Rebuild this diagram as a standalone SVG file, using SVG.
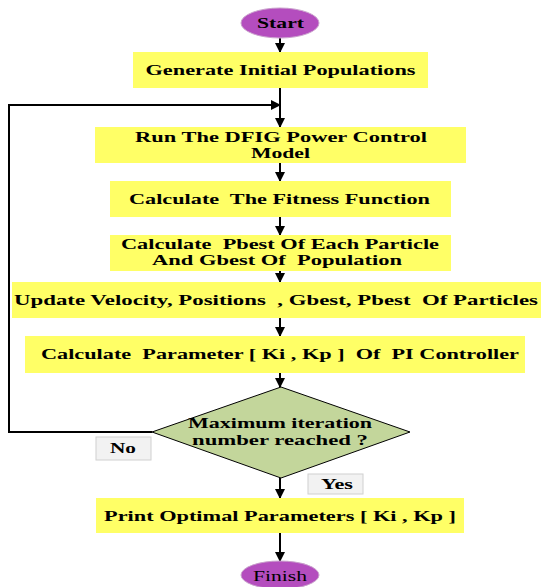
<svg xmlns="http://www.w3.org/2000/svg" width="541" height="587" viewBox="0 0 541 587">
<style>
text{font-family:"Liberation Serif","Times New Roman",serif;font-weight:bold;font-size:15px;fill:#000;text-anchor:middle}
.box{fill:#ffff66}
.term{fill:#b44dbe;stroke:#c9a0cc;stroke-width:1}
.dia{fill:#c3d69b;stroke:#000;stroke-width:1}
.lbl{fill:#f2f2f2;stroke:#d0d0d0;stroke-width:1}
.ln{stroke:#000;stroke-width:2;fill:none}
</style>
<defs>
<marker id="ah" markerWidth="10" markerHeight="10" refX="9" refY="5" orient="auto" markerUnits="userSpaceOnUse">
<path d="M0,0 L10,5 L0,10 Z" fill="#000"/>
</marker>
</defs>
<g id="connectors">
<line class="ln" x1="280" y1="38" x2="280" y2="52" marker-end="url(#ah)"/>
<line class="ln" x1="280" y1="88" x2="280" y2="127" marker-end="url(#ah)"/>
<polyline class="ln" points="152,432 9,432 9,105 280,105" marker-end="url(#ah)"/>
<line class="ln" x1="280" y1="163" x2="280" y2="181" marker-end="url(#ah)"/>
<line class="ln" x1="280" y1="217" x2="280" y2="235" marker-end="url(#ah)"/>
<line class="ln" x1="280" y1="271" x2="280" y2="282" marker-end="url(#ah)"/>
<line class="ln" x1="280" y1="318" x2="280" y2="336" marker-end="url(#ah)"/>
<line class="ln" x1="280" y1="373" x2="280" y2="387" marker-end="url(#ah)"/>
<line class="ln" x1="280" y1="478" x2="280" y2="498" marker-end="url(#ah)"/>
<line class="ln" x1="280" y1="533" x2="280" y2="561" marker-end="url(#ah)"/>
</g>
<g id="start">
<ellipse class="term" cx="280" cy="23" rx="39" ry="15"/>
<text x="280.5" y="28" textLength="47" lengthAdjust="spacingAndGlyphs">Start</text>
</g>
<g id="generate">
<rect class="box" x="133" y="52" width="295" height="36"/>
<text x="280.5" y="75" textLength="270" lengthAdjust="spacingAndGlyphs">Generate Initial Populations</text>
</g>
<g id="run">
<rect class="box" x="95" y="127" width="371" height="36"/>
<text x="281" y="142" textLength="292" lengthAdjust="spacingAndGlyphs">Run The DFIG Power Control</text>
<text x="280.5" y="158" textLength="59" lengthAdjust="spacingAndGlyphs">Model</text>
</g>
<g id="fitness">
<rect class="box" x="110" y="181" width="341" height="36"/>
<text x="279.5" y="204" textLength="301" lengthAdjust="spacingAndGlyphs" xml:space="preserve">Calculate  The Fitness Function</text>
</g>
<g id="pbest">
<rect class="box" x="110" y="235" width="341" height="36"/>
<text x="280" y="249" textLength="318" lengthAdjust="spacingAndGlyphs" xml:space="preserve">Calculate  Pbest Of Each Particle</text>
<text x="277" y="265" textLength="250" lengthAdjust="spacingAndGlyphs" xml:space="preserve">And Gbest Of  Population</text>
</g>
<g id="update">
<rect class="box" x="12" y="282" width="529" height="36"/>
<text x="276" y="305" textLength="524" lengthAdjust="spacingAndGlyphs" xml:space="preserve">Update Velocity, Positions  , Gbest, Pbest  Of Particles</text>
</g>
<g id="parameter">
<rect class="box" x="25" y="336" width="500" height="37"/>
<text x="280" y="359" textLength="478" lengthAdjust="spacingAndGlyphs" xml:space="preserve">Calculate  Parameter [ Ki , Kp ]  Of  PI Controller</text>
</g>
<g id="decision">
<polygon class="dia" points="281,387 410,432 281,478 152,432"/>
<text x="280" y="428" textLength="184" lengthAdjust="spacingAndGlyphs">Maximum iteration</text>
<text x="280" y="445" textLength="176" lengthAdjust="spacingAndGlyphs">number reached ?</text>
</g>
<g id="no">
<rect class="lbl" x="96" y="437" width="55" height="23"/>
<text x="123" y="453" textLength="26" lengthAdjust="spacingAndGlyphs">No</text>
</g>
<g id="yes">
<rect class="lbl" x="308" y="474" width="55" height="20"/>
<text x="337" y="489" textLength="32" lengthAdjust="spacingAndGlyphs">Yes</text>
</g>
<g id="print">
<rect class="box" x="96" y="498" width="368" height="35"/>
<text x="280" y="521" textLength="352" lengthAdjust="spacingAndGlyphs">Print Optimal Parameters [ Ki , Kp ]</text>
</g>
<g id="finish">
<ellipse class="term" cx="280" cy="575" rx="39" ry="14"/>
<text x="280" y="581" textLength="54" lengthAdjust="spacingAndGlyphs" style="font-weight:normal">Finish</text>
</g>
</svg>
